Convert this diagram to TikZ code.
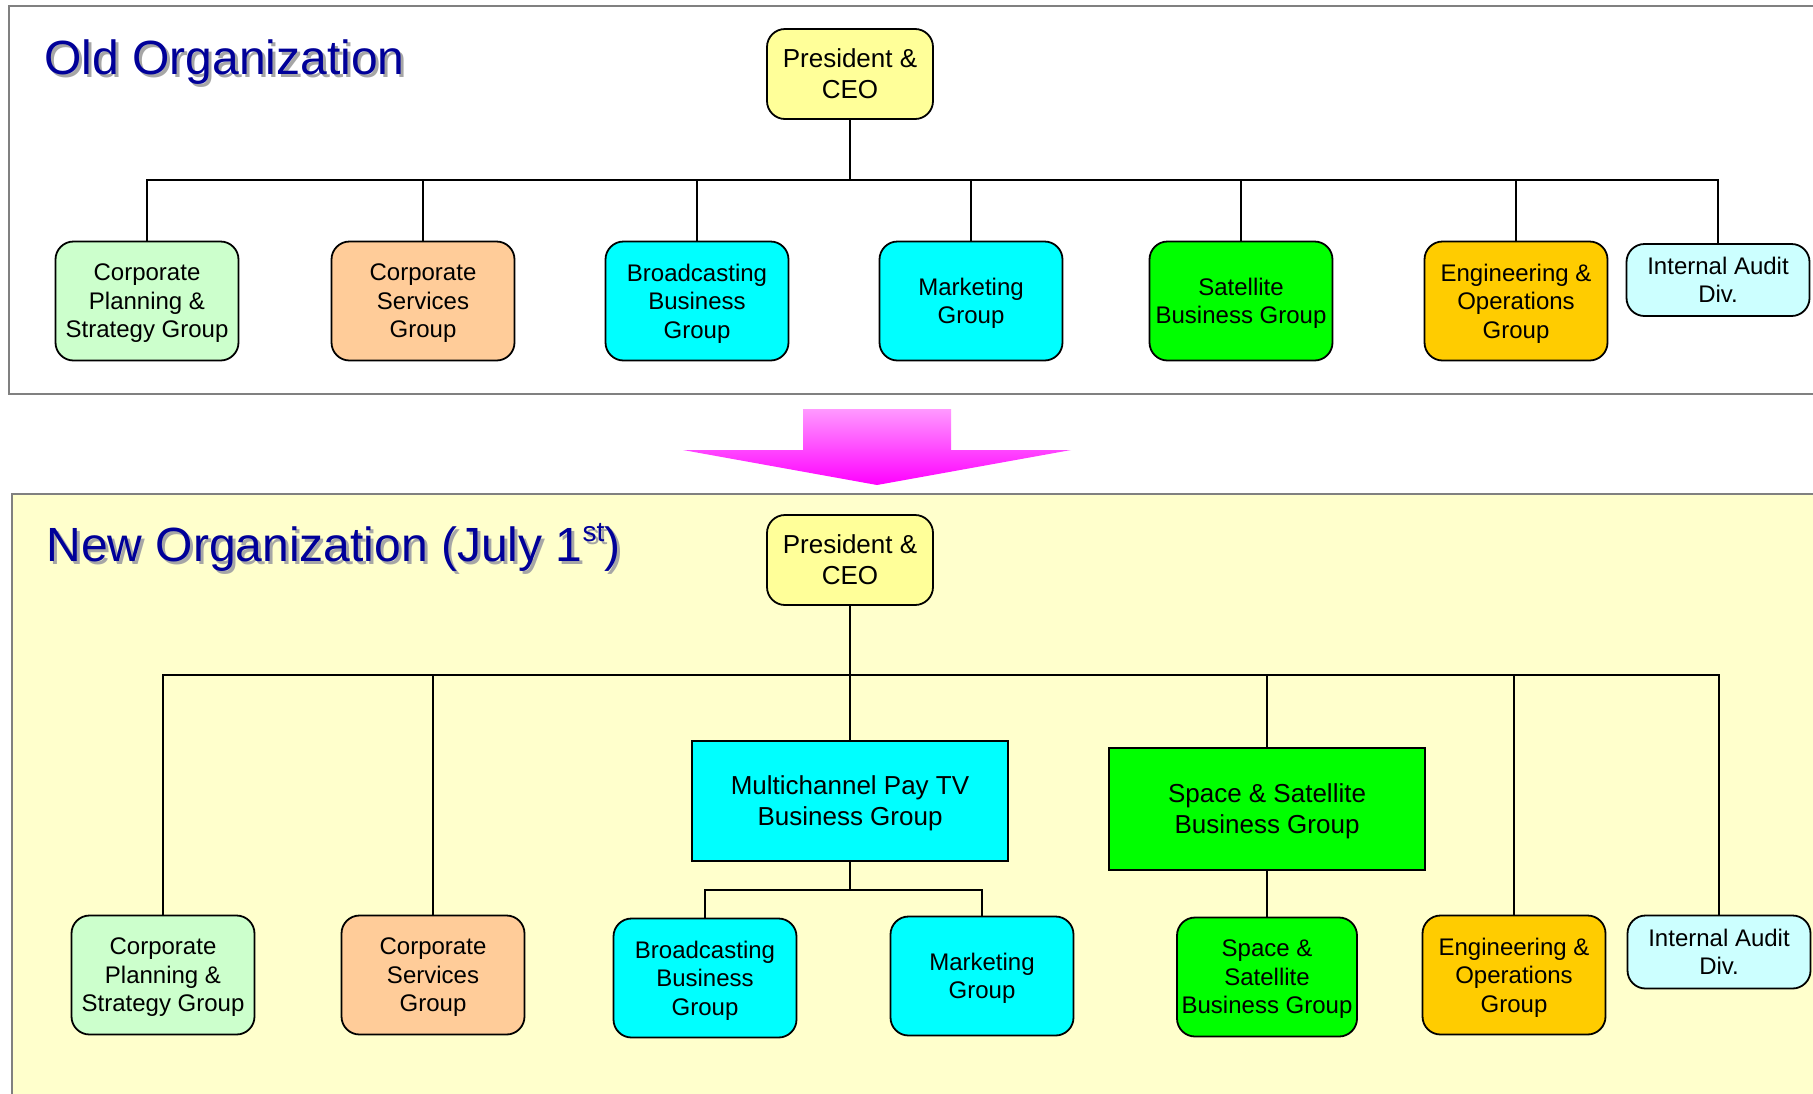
\documentclass[tikz,border=0pt]{standalone}
\usepackage{fontspec}
\setmainfont{Liberation Sans}
\usetikzlibrary{positioning,calc}

\definecolor{titleblue}{HTML}{000099}
\definecolor{shadowgray}{HTML}{A6A6A6}
\definecolor{framegray}{HTML}{808080}
\definecolor{newbg}{HTML}{FFFFCC}
\definecolor{ceoyellow}{HTML}{FFFF99}
\definecolor{plangreen}{HTML}{CCFFCC}
\definecolor{servorange}{HTML}{FFCC99}
\definecolor{tvcyan}{HTML}{00FFFF}
\definecolor{satgreen}{HTML}{00FF00}
\definecolor{enggold}{HTML}{FFCC00}
\definecolor{auditblue}{HTML}{CCFFFF}
\definecolor{arrowtop}{HTML}{FF99FF}
\definecolor{arrowbot}{HTML}{FF00FF}

\newcommand{\stmark}{\raisebox{10pt}{\fontsize{14}{14}\selectfont st}}

\begin{document}
\begin{tikzpicture}
 [
  x=0.5pt, y=-0.5pt,
  unit/.style={draw, line width=0.9pt, rounded corners=9pt, align=center, inner sep=0pt,
    minimum width=91.5pt, minimum height=59.5pt, font=\fontsize{12}{14.25}\selectfont,
    text depth=-2.5pt},
  head/.style={unit, fill=ceoyellow, minimum width=83pt, minimum height=45pt,
    font=\fontsize{13}{15.5}\selectfont, text depth=-1.2pt},
  bigunit/.style={draw, line width=0.9pt, align=center, inner sep=0pt,
    minimum width=158pt, minimum height=60pt, font=\fontsize{13}{15.5}\selectfont,
    text depth=-1.2pt},
  link/.style={line width=0.8pt},
  frame/.style={draw=framegray, line width=1pt},
  title/.style={anchor=base west, inner sep=0pt, font=\fontsize{24}{28}\selectfont},
 ]
  \useasboundingbox (0,0) rectangle (1813,1093);
  \clip (0,0) rectangle (1813,1093);

  % frames
  \draw[frame, fill=white] (9,6) rectangle (1840,394);
  \draw[frame, fill=newbg] (12,494) rectangle (1840,1120);

  % arrow between the two charts
  \shade[top color=arrowtop, bottom color=arrowbot]
    (803,409) -- (951,409) -- (951,450) -- (1071,450) -- (877,485)
    -- (683,450) -- (803,450) -- cycle;

  % titles
  \node[title, text=shadowgray] (oldshadow) at (47,77) {Old Organization};
  \node[title, text=titleblue] (oldtitle) at (44,74) {Old Organization};
  \node[title, text=shadowgray] (newshadow) at (49,564) {New Organization (July 1\stmark)};
  \node[title, text=titleblue] (newtitle) at (46,561) {New Organization (July 1\stmark)};

  % old organization
  \node[head] (oceo) at (850,74) {President \&\\CEO};
  \node[unit, fill=plangreen] (oplan) at (147,301) {Corporate\\Planning \&\\Strategy Group};
  \node[unit, fill=servorange] (oserv) at (423,301) {Corporate\\Services\\Group};
  \node[unit, fill=tvcyan] (obcast) at (697,301) {Broadcasting\\Business\\Group};
  \node[unit, fill=tvcyan] (omkt) at (971,301) {Marketing\\Group};
  \node[unit, fill=satgreen] (osat) at (1241,301) {Satellite\\Business Group};
  \node[unit, fill=enggold] (oeng) at (1516,301) {Engineering \&\\Operations\\Group};
  \node[unit, fill=auditblue, minimum height=36pt] (oaudit) at (1718,280) {Internal Audit\\Div.};

  \coordinate (obus) at (850,180);
  \draw[link] (oceo) -- (obus);
  \foreach \n in {oplan,oserv,obcast,omkt,osat,oeng,oaudit}
    \draw[link] (obus) -| (\n.north);

  % new organization
  \node[head] (nceo) at (850,560) {President \&\\CEO};
  \node[unit, fill=plangreen] (nplan) at (163,975) {Corporate\\Planning \&\\Strategy Group};
  \node[unit, fill=servorange] (nserv) at (433,975) {Corporate\\Services\\Group};
  \node[bigunit, fill=tvcyan] (npay) at (850,801) {Multichannel Pay TV\\Business Group};
  \node[unit, fill=tvcyan] (nbcast) at (705,978) {Broadcasting\\Business\\Group};
  \node[unit, fill=tvcyan] (nmkt) at (982,976) {Marketing\\Group};
  \node[bigunit, fill=satgreen, minimum height=61pt] (nspace) at (1267,809) {Space \& Satellite\\Business Group};
  \node[unit, fill=satgreen, minimum width=90pt] (nsat) at (1267,977) {Space \&\\Satellite\\Business Group};
  \node[unit, fill=enggold] (neng) at (1514,975) {Engineering \&\\Operations\\Group};
  \node[unit, fill=auditblue, minimum height=36.5pt] (naudit) at (1719,952) {Internal Audit\\Div.};

  \coordinate (nbus) at (850,675);
  \draw[link] (nceo) -- (nbus);
  \foreach \n in {nplan,nserv,npay,nspace,neng,naudit}
    \draw[link] (nbus) -| (\n.north);

  \coordinate (pbus) at (850,890);
  \draw[link] (npay) -- (pbus);
  \draw[link] (pbus) -| (nbcast.north);
  \draw[link] (pbus) -| (nmkt.north);
  \draw[link] (nspace) -- (nsat);
\end{tikzpicture}
\end{document}
